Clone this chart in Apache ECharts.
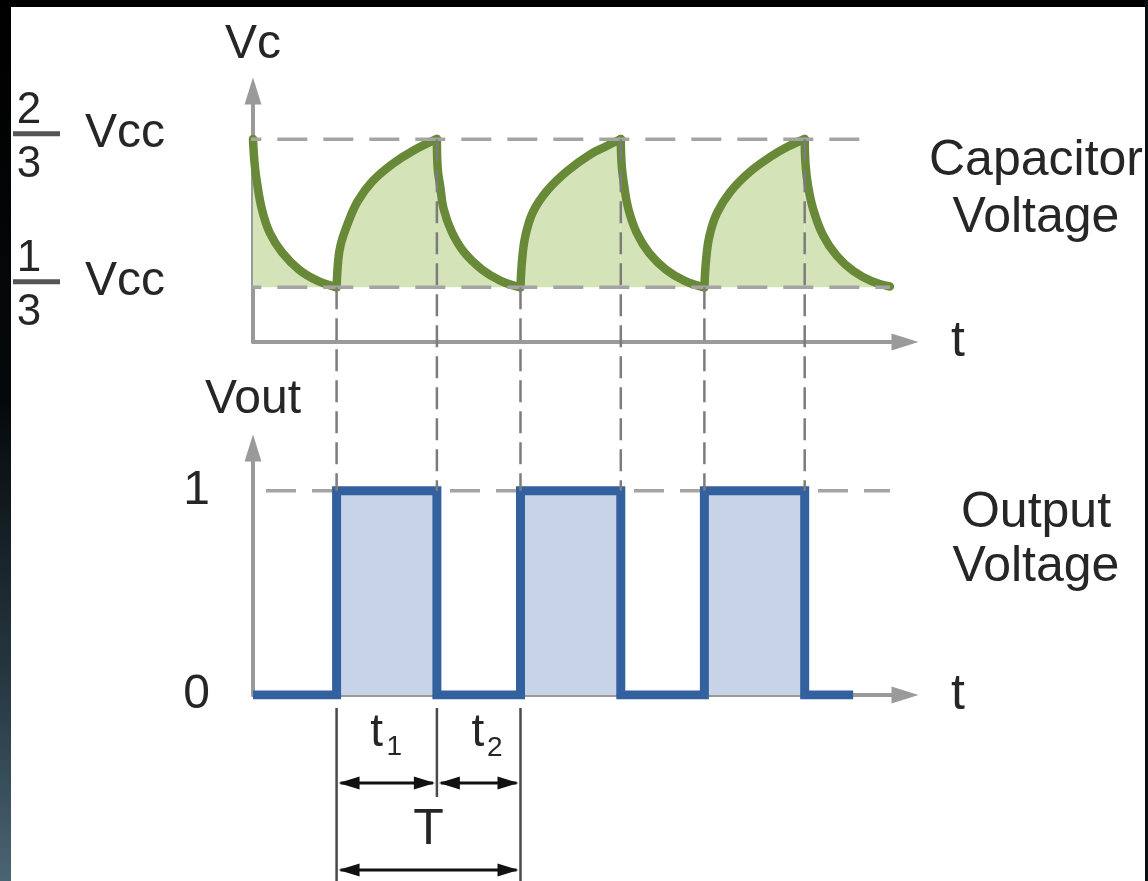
<!DOCTYPE html>
<html><head><meta charset="utf-8">
<script src="https://cdn.jsdelivr.net/npm/echarts@6/dist/echarts.min.js"></script>
<style>html,body{margin:0;padding:0;background:#fff;overflow:hidden}#c{width:1148px;height:881px}</style>
</head><body><div id="c"></div>
<script>
// ---- data (time unit ~ t2, the discharge time; voltage as fraction of Vcc) ----
const transitions = [1.0, 2.2, 3.2, 4.4, 5.4, 6.6];      // switching instants
const transitionLevels = [1/3, 2/3, 1/3, 2/3, 1/3, 2/3]; // Vc at each switch
const capDischarge0 = [[0,0.667],[0.02,0.61],[0.05,0.566],[0.11,0.506],[0.20,0.456],[0.35,0.411],[0.55,0.373],[0.77,0.348],[1.0,0.333]];
const capCharge1    = [[1.0,0.333],[1.02,0.395],[1.05,0.43],[1.12,0.47],[1.25,0.526],[1.43,0.572],[1.67,0.611],[1.91,0.640],[2.2,0.667]];
const capDischarge1 = [[2.2,0.667],[2.21,0.60],[2.24,0.56],[2.28,0.51],[2.38,0.457],[2.53,0.411],[2.74,0.373],[2.97,0.347],[3.2,0.333]];
const capCharge2    = [[3.2,0.333],[3.22,0.396],[3.26,0.45],[3.35,0.503],[3.52,0.551],[3.76,0.595],[4.04,0.633],[4.22,0.65],[4.4,0.667]];
const capDischarge2 = [[4.4,0.667],[4.41,0.61],[4.44,0.562],[4.49,0.51],[4.59,0.456],[4.74,0.41],[4.94,0.373],[5.17,0.347],[5.4,0.333]];
const capCharge3    = [[5.4,0.333],[5.42,0.394],[5.46,0.448],[5.55,0.5],[5.71,0.548],[5.95,0.594],[6.2,0.628],[6.4,0.65],[6.6,0.667]];
const capDischarge3 = [[6.6,0.667],[6.61,0.61],[6.64,0.562],[6.70,0.51],[6.82,0.45],[6.98,0.405],[7.18,0.37],[7.40,0.347],[7.62,0.335]];
const capSegments = [capDischarge0, capCharge1, capDischarge1, capCharge2, capDischarge2, capCharge3, capDischarge3];
const outTime  = [0, 1.0, 1.0, 2.2, 2.2, 3.2, 3.2, 4.4, 4.4, 5.4, 5.4, 6.6, 6.6, 7.18];
const outLevel = [0, 0,   1,   1,   0,   0,   1,   1,   0,   0,   1,   1,   0,   0];
const capThresholds = [{value: 2/3, num: '2', den: '3', unit: 'Vcc', from: -0.81, to: 7.3},
                       {value: 1/3, num: '1', den: '3', unit: 'Vcc', from: -0.81, to: 7.62}];
const outHigh = {value: 1, from: -0.395, to: 7.62};
const outTickLabels = ['0', '1'];
const periodMarks = {t1: [1.0, 2.2], t2: [2.2, 3.2], T: [1.0, 3.2]};

const FONT = 'Liberation Sans, Arial, sans-serif';
const TXT = '#262626';
const chart = echarts.init(document.getElementById('c'), null, {renderer: 'canvas'});

const axisLine = {show: true, lineStyle: {color: '#9a9a9a', width: 4}, symbol: ['none', 'triangle'], symbolSize: [17, 27]};
const series = [];
capSegments.forEach(seg => series.push({
  type: 'line', xAxisIndex: 0, yAxisIndex: 0, data: seg, symbol: 'none', smooth: 0.4, z: 2,
  lineStyle: {color: '#688937', width: 8.5, cap: 'round', join: 'round'},
  areaStyle: {color: '#d5e3b8', opacity: 1, origin: 1/3}
}));
capThresholds.forEach(th => series.push({
  type: 'line', xAxisIndex: 0, yAxisIndex: 0, symbol: 'none', clip: false, z: 3,
  data: [[th.from, th.value], [th.to, th.value]],
  lineStyle: {color: '#a4a4a4', width: 3.5, type: [30, 16]}
}));
series.push({
  type: 'line', xAxisIndex: 1, yAxisIndex: 1, symbol: 'none', clip: false, z: 1,
  data: [[outHigh.from, outHigh.value], [outHigh.to, outHigh.value]],
  lineStyle: {color: '#a4a4a4', width: 3.5, type: [30, 16]}
});
series.push({
  type: 'line', xAxisIndex: 1, yAxisIndex: 1, symbol: 'none', z: 2,
  data: outTime.map((t, i) => [t, outLevel[i]]),
  lineStyle: {color: '#33609e', width: 9, join: 'miter', cap: 'butt'},
  areaStyle: {color: '#c7d4e7', opacity: 1, origin: 'start'}
});

chart.setOption({
  animation: false,
  backgroundColor: '#ffffff',
  grid: [{left: 253, top: 91, width: 652, height: 251}, {left: 253, top: 448, width: 652, height: 247}],
  xAxis: [
    {type: 'value', gridIndex: 0, min: 0, max: 7.8, axisLine, axisTick: {show: false}, axisLabel: {show: false}, splitLine: {show: false},
     name: 't', nameLocation: 'end', nameGap: 46, nameTextStyle: {fontSize: 50, fontFamily: FONT, color: TXT, padding: [0, 0, 22, 0]}},
    {type: 'value', gridIndex: 1, min: 0, max: 7.8, axisLine, axisTick: {show: false}, axisLabel: {show: false}, splitLine: {show: false},
     name: 't', nameLocation: 'end', nameGap: 46, nameTextStyle: {fontSize: 50, fontFamily: FONT, color: TXT, padding: [0, 0, 20, 0]}}
  ],
  yAxis: [
    {type: 'value', gridIndex: 0, min: 0.21, max: 0.775, axisLine, axisTick: {show: false}, axisLabel: {show: false}, splitLine: {show: false},
     name: 'Vc', nameLocation: 'end', nameGap: 22, nameTextStyle: {fontSize: 48, fontFamily: FONT, color: TXT}},
    {type: 'value', gridIndex: 1, min: 0, max: 1.21, interval: 1, axisLine, axisTick: {show: false}, splitLine: {show: false},
     axisLabel: {show: true, margin: 43, fontSize: 48, fontFamily: FONT, color: TXT,
       formatter: v => (outTickLabels.indexOf(String(v)) >= 0 ? String(v) : '')},
     name: 'Vout', nameLocation: 'end', nameGap: 24, nameTextStyle: {fontSize: 48, fontFamily: FONT, color: TXT}}
  ],
  series
});

// ---- annotations positioned through the chart's own scales ----
const g = [];
const txt = (x, y, text, size, align, va, lh) => ({
  type: 'text', x, y, z: 50,
  style: Object.assign({text, font: size + 'px ' + FONT, fill: TXT, align, textAlign: align, verticalAlign: va, textVerticalAlign: va}, lh ? {lineHeight: lh} : {})
});

capThresholds.forEach(th => {
  const py = chart.convertToPixel({gridIndex: 0}, [0, th.value])[1];
  g.push(txt(29, py - 28, th.num, 44, 'center', 'middle'));
  g.push({type: 'rect', z: 50, shape: {x: 13, y: py - 8, width: 47, height: 5}, style: {fill: '#555'}});
  g.push(txt(29, py + 26, th.den, 44, 'center', 'middle'));
  g.push(txt(85, py - 5, th.unit, 48, 'left', 'middle'));
});

// vertical dashed projection lines between the two plots
transitions.forEach((t, i) => {
  const a = chart.convertToPixel({gridIndex: 0}, [t, transitionLevels[i]]);
  const b = chart.convertToPixel({gridIndex: 1}, [t, outHigh.value]);
  g.push({type: 'line', z: 40, shape: {x1: a[0], y1: a[1], x2: b[0], y2: b[1]},
          style: {stroke: '#7c7c7c', lineWidth: 2.5, lineDash: [22, 9]}});
});

// right-hand captions
g.push(txt(1036, 190, 'Capacitor\nVoltage', 50, 'center', 'middle', 57));
g.push(txt(1036, 540, 'Output\nVoltage', 50, 'center', 'middle', 54));

// period dimension lines
const xp = t => chart.convertToPixel({gridIndex: 1}, [t, 0])[0];
const xa = xp(periodMarks.T[0]), xm = xp(periodMarks.t1[1]), xb = xp(periodMarks.T[1]);
const vline = (x, y1, y2) => ({type: 'line', z: 50, shape: {x1: x, y1, x2: x, y2}, style: {stroke: '#4a4a4a', lineWidth: 2.5}});
g.push(vline(xa, 708, 881), vline(xm, 708, 797), vline(xb, 708, 881));
const head = (tip, y, dir) => ({type: 'polygon', z: 51, shape: {points: [[tip, y], [tip + dir * 21, y - 6.5], [tip + dir * 21, y + 6.5]]}, style: {fill: '#111'}});
const dim = (x1, x2, y) => [
  {type: 'line', z: 50, shape: {x1: x1 + 4, y1: y, x2: x2 - 4, y2: y}, style: {stroke: '#111', lineWidth: 3}},
  head(x1 + 2, y, 1), head(x2 - 2, y, -1)
];
g.push(...dim(xa, xm, 783), ...dim(xm, xb, 783), ...dim(xa, xb, 870));
g.push(txt(xa + 40, 733, 't', 46, 'center', 'middle'), txt(xa + 50, 747, '1', 28, 'left', 'middle'));
g.push(txt(xm + 41, 733, 't', 46, 'center', 'middle'), txt(xm + 50, 748, '2', 28, 'left', 'middle'));
g.push(txt((xa + xb) / 2, 830, 'T', 50, 'center', 'middle'));

// dark frame of the original picture
g.push({type: 'rect', z: 100, shape: {x: 0, y: 0, width: 11, height: 881},
  style: {fill: {type: 'linear', x: 0, y: 0, x2: 0, y2: 1, colorStops: [
    {offset: 0, color: '#000000'}, {offset: 0.45, color: '#05080a'}, {offset: 0.8, color: '#2a3c47'}, {offset: 1, color: '#4b6474'}]}}});
g.push({type: 'rect', z: 100, shape: {x: 0, y: 0, width: 1148, height: 7}, style: {fill: '#000'}});
g.push({type: 'rect', z: 100, shape: {x: 1145, y: 0, width: 3, height: 881}, style: {fill: '#0c0f12'}});

chart.setOption({graphic: {elements: g}});
</script></body></html>
